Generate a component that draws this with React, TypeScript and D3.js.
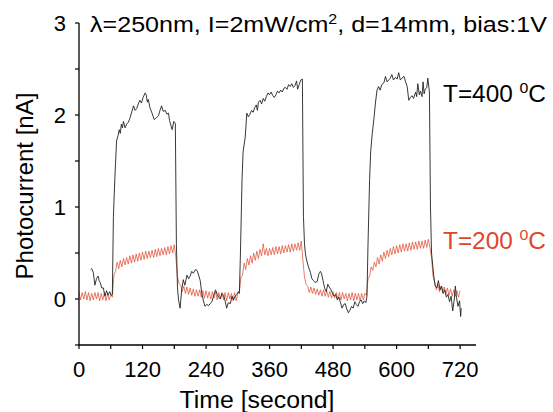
import * as d3 from 'd3';

// T = 400 °C trace: [time s, current nA]
const hotTrace: [number, number][] = [
  [22, 0.32], [24, 0.33], [27, 0.29], [30, 0.15], [33, 0.22], [36, 0.25], [38, 0.2], [40, 0.18], [43, 0.12], [46, 0.12],
  [49, 0.03], [52, 0.09], [55, 0.04], [58, 0.08], [61, 0.04], [63, 0.05],
  [65, 0.9], [68, 1.35], [71, 1.72], [74, 1.78], [76, 1.84], [78, 1.8], [80, 1.9], [82, 1.86], [84, 1.93], [87, 1.86],
  [90, 1.9], [93, 1.92], [96, 1.96], [99, 2.02], [103, 2.1], [106, 2.05], [109, 2.07], [112, 2.12], [115, 2.16], [118, 2.13],
  [121, 2.19], [125, 2.24], [127, 2.22], [129, 2.14], [131, 2.17], [134, 2.08], [138, 2.02], [142, 1.95], [146, 1.97], [150, 1.99],
  [153, 2.05], [156, 2.1], [159, 2.04], [163, 2.05], [166, 2.01], [169, 2.02], [171, 1.94], [174, 1.88], [176, 1.84], [179, 1.93],
  [182, 1.91],
  [184, 0.6], [186, 0.13], [188, -0.01], [191, -0.1], [194, 0.1], [197, 0.21], [200, 0.15], [204, 0.26], [207, 0.22], [210, 0.25],
  [213, 0.3], [216, 0.28], [220, 0.32], [223, 0.31], [226, 0.26], [229, 0.2], [232, 0.06], [235, -0.02], [238, -0.08], [241, -0.06],
  [245, -0.07], [248, -0.05], [251, -0.03], [255, 0.05], [258, 0.1], [261, 0.05], [264, 0.02], [267, 0.0], [270, 0.06], [273, 0.04],
  [276, -0.02], [279, -0.1], [282, -0.04], [286, -0.05], [289, 0.03], [292, -0.01], [295, 0.03], [298, 0.05], [301, 0.08], [303, 0.06],
  [305, 0.5], [308, 1.3], [310, 1.6], [314, 1.76], [317, 2.02], [320, 1.98], [323, 2.01], [326, 2.05], [329, 2.03], [332, 2.08],
  [335, 2.11], [337, 2.05], [339, 2.14], [342, 2.16], [345, 2.12], [348, 2.18], [351, 2.15], [354, 2.2], [357, 2.24], [360, 2.22],
  [363, 2.25], [366, 2.21], [369, 2.19], [372, 2.22], [375, 2.26], [378, 2.24], [381, 2.27], [384, 2.25], [387, 2.29], [390, 2.3],
  [393, 2.28], [396, 2.33], [399, 2.31], [402, 2.34], [405, 2.3], [408, 2.32], [411, 2.37], [413, 2.28], [416, 2.33], [419, 2.38],
  [422, 2.39],
  [424, 0.9], [426, 0.6], [428, 0.48], [431, 0.4], [434, 0.34], [437, 0.29], [440, 0.22], [443, 0.2], [446, 0.18], [450, 0.19],
  [453, 0.27], [456, 0.3], [458, 0.28], [461, 0.2], [464, 0.12], [467, 0.08], [470, 0.16], [473, 0.13], [476, 0.1], [479, 0.06],
  [482, 0.03], [485, 0.05], [488, -0.01], [491, 0.02], [494, -0.04], [497, -0.1], [500, -0.06], [503, -0.05], [506, -0.11], [509, -0.15],
  [512, -0.12], [515, -0.08], [518, -0.1], [521, -0.03], [524, -0.06], [527, -0.08], [530, -0.03], [533, -0.01], [536, -0.05], [539, -0.02],
  [542, -0.04], [544, 0.03],
  [546, 0.6], [549, 1.3], [551, 1.6], [554, 1.8], [557, 1.95], [560, 2.13], [563, 2.27], [566, 2.31], [569, 2.27], [572, 2.33],
  [576, 2.35], [579, 2.42], [582, 2.36], [585, 2.38], [588, 2.4], [591, 2.44], [594, 2.38], [598, 2.41], [601, 2.39], [604, 2.46],
  [607, 2.38], [610, 2.4], [614, 2.42], [617, 2.36], [620, 2.31], [623, 2.16], [626, 2.19], [629, 2.21], [632, 2.18], [636, 2.25],
  [638, 2.2], [640, 2.34], [643, 2.22], [645, 2.26], [648, 2.2], [650, 2.36], [652, 2.23], [654, 2.28], [657, 2.3], [659, 2.4],
  [662, 2.25],
  [664, 1.0], [666, 0.5], [668, 0.38], [670, 0.26], [673, 0.14], [676, 0.12], [679, 0.2], [682, 0.1], [685, 0.14], [688, 0.06],
  [691, 0.1], [694, 0.02], [697, 0.05], [700, -0.03], [703, 0.03], [706, -0.13], [709, 0.0], [711, 0.14], [713, 0.02], [716, -0.08],
  [719, -0.02], [721, -0.19], [722, -0.1],
];

// T = 200 °C trace, one reading every 3 s from t = 0 (one row = one minute)
const coldStep = 3;
const coldValues: number[] = [
  0.07, -0.01, 0.07, 0.0, 0.08, -0.01, 0.07, -0.02, 0.06, -0.01, 0.07, 0.0, 0.07, -0.02, 0.06, -0.01, 0.07, -0.02, 0.06, -0.01,
  0.05, 0.02, 0.26, 0.3, 0.4, 0.33, 0.42, 0.35, 0.44, 0.37, 0.45, 0.38, 0.47, 0.39, 0.48, 0.4, 0.49, 0.41, 0.5, 0.42,
  0.51, 0.43, 0.52, 0.44, 0.52, 0.45, 0.53, 0.45, 0.54, 0.46, 0.55, 0.47, 0.55, 0.48, 0.56, 0.48, 0.57, 0.49, 0.58, 0.5,
  0.59, 0.45, 0.24, 0.17, 0.15, 0.08, 0.14, 0.06, 0.13, 0.05, 0.12, 0.04, 0.11, 0.03, 0.1, 0.03, 0.1, 0.02, 0.09, 0.01,
  0.09, 0.01, 0.08, 0.0, 0.08, 0.01, 0.08, -0.01, 0.07, 0.0, 0.07, -0.01, 0.07, -0.02, 0.07, 0.0, 0.06, -0.02, 0.07, -0.02,
  0.06, 0.08, 0.24, 0.26, 0.39, 0.32, 0.44, 0.37, 0.47, 0.39, 0.5, 0.42, 0.52, 0.44, 0.54, 0.47, 0.6, 0.48, 0.55, 0.47,
  0.55, 0.48, 0.56, 0.48, 0.57, 0.49, 0.57, 0.49, 0.58, 0.5, 0.58, 0.51, 0.59, 0.51, 0.6, 0.52, 0.6, 0.53, 0.61, 0.53,
  0.63, 0.42, 0.24, 0.16, 0.14, 0.07, 0.13, 0.06, 0.12, 0.05, 0.11, 0.04, 0.1, 0.03, 0.1, 0.03, 0.09, 0.02, 0.08, 0.01,
  0.08, 0.01, 0.07, 0.0, 0.07, -0.01, 0.07, 0.0, 0.06, -0.02, 0.06, -0.01, 0.07, -0.02, 0.06, -0.01, 0.06, -0.02, 0.06, -0.01,
  0.06, 0.04, 0.22, 0.25, 0.35, 0.31, 0.4, 0.35, 0.45, 0.38, 0.48, 0.41, 0.51, 0.44, 0.53, 0.46, 0.55, 0.48, 0.57, 0.49,
  0.58, 0.5, 0.59, 0.51, 0.6, 0.52, 0.6, 0.52, 0.61, 0.53, 0.62, 0.54, 0.62, 0.54, 0.63, 0.55, 0.63, 0.55, 0.64, 0.56,
  0.65, 0.56, 0.45, 0.24, 0.18, 0.1, 0.16, 0.08, 0.14, 0.07, 0.13, 0.05, 0.12, 0.04, 0.11, 0.03, 0.1, 0.03, 0.09, 0.02,
  0.09,
];

const xMajor = [0, 120, 240, 360, 480, 600, 720];
const xMinor = [60, 180, 300, 420, 540, 660];
const yMajor = [0, 1, 2, 3];
const yMinor = [-0.5, 0.5, 1.5, 2.5];

const RED = '#e0452a';
const FONT = "'Liberation Sans', Arial, sans-serif";

const W = 553;
const H = 412;

export default function App() {
  const x = d3.scaleLinear().domain([0, 750]).range([79, 476]);
  const y = d3.scaleLinear().domain([-0.5, 3]).range([345, 23]);

  const line = d3.line<[number, number]>().x(d => x(d[0])).y(d => y(d[1]));
  const coldPts: [number, number][] = coldValues.map((v, i) => [i * coldStep, v]);

  const tickLen = 4;

  return (
    <svg width={W} height={H} style={{ position: 'absolute', left: 0, top: 0, background: '#fff' }} fontFamily={FONT}>
      <path d={line(coldPts) ?? ''} fill="none" stroke={RED} strokeWidth={0.7} />
      <path d={line(hotTrace) ?? ''} fill="none" stroke="#222" strokeWidth={0.9} />

      {/* axes */}
      <line x1={x(0)} x2={x(0)} y1={y(3)} y2={y(-0.5)} stroke="#000" strokeWidth={1.3} />
      <line x1={x(0)} x2={x(750)} y1={y(-0.5)} y2={y(-0.5)} stroke="#000" strokeWidth={1.3} />
      {[...yMajor, ...yMinor].map(v => (
        <line key={'yt' + v} x1={x(0) - tickLen} x2={x(0)} y1={y(v)} y2={y(v)} stroke="#000" strokeWidth={1.2} />
      ))}
      {[...xMajor, ...xMinor].map(t => (
        <line key={'xt' + t} x1={x(t)} x2={x(t)} y1={y(-0.5)} y2={y(-0.5) + tickLen} stroke="#000" strokeWidth={1.2} />
      ))}
      {yMajor.map(v => (
        <text key={'yl' + v} x={66} y={y(v)} dy="0.37em" textAnchor="end" fontSize={22}>{v}</text>
      ))}
      {xMajor.map(t => (
        <text key={'xl' + t} x={x(t)} y={377} textAnchor="middle" fontSize={22}>{t}</text>
      ))}

      <text x={257} y={408} textAnchor="middle" fontSize={23} textLength={155} lengthAdjust="spacingAndGlyphs">Time [second]</text>
      <text transform="translate(33,186) rotate(-90)" textAnchor="middle" fontSize={24}>Photocurrent [nA]</text>

      <text x={90} y={31.5} fontSize={22} textLength={457} lengthAdjust="spacingAndGlyphs">
        λ=250nm, I=2mW/cm<tspan dy={-8} fontSize={14}>2</tspan><tspan dy={8}>, d=14mm, bias:1V</tspan>
      </text>
      <text x={443} y={101.5} fontSize={23} textLength={103} lengthAdjust="spacingAndGlyphs">
        T=400 <tspan dy={-9} fontSize={15}>0</tspan><tspan dy={9}>C</tspan>
      </text>
      <text x={443} y={248.5} fontSize={23} fill={RED} textLength={103} lengthAdjust="spacingAndGlyphs">
        T=200 <tspan dy={-9} fontSize={15}>0</tspan><tspan dy={9}>C</tspan>
      </text>
    </svg>
  );
}
